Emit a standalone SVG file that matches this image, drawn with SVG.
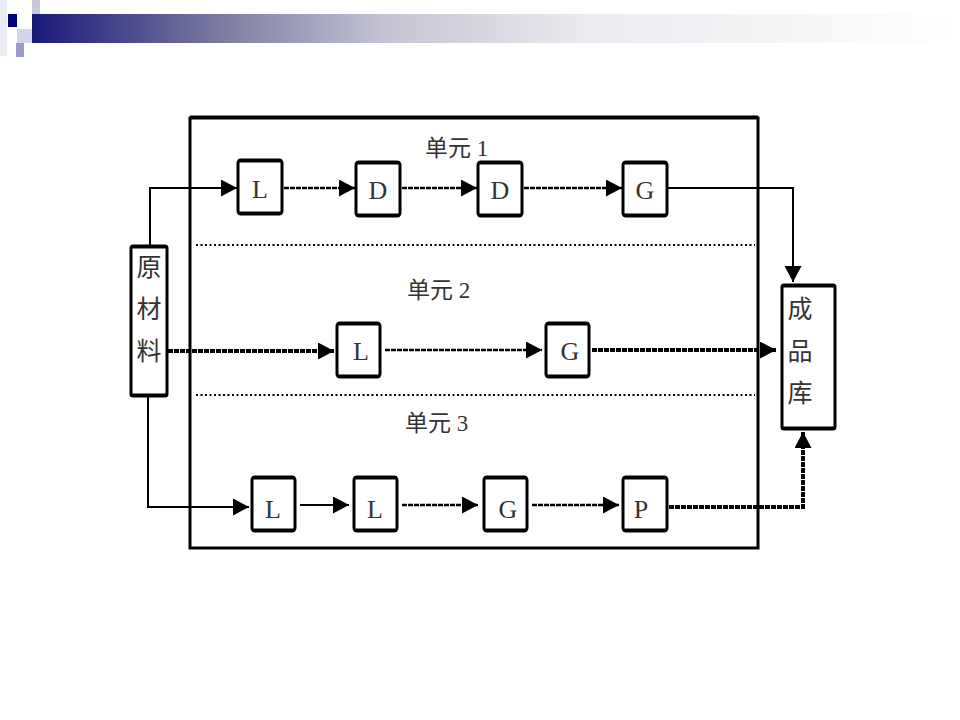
<svg xmlns="http://www.w3.org/2000/svg" width="960" height="720" viewBox="0 0 960 720">
<defs>
<linearGradient id="bar" x1="32" y1="0" x2="960" y2="0" gradientUnits="userSpaceOnUse">
<stop offset="0" stop-color="#18187a"/>
<stop offset="0.2" stop-color="#7a7aa0"/>
<stop offset="0.38" stop-color="#c4c4d4"/>
<stop offset="0.6" stop-color="#ebebf0"/>
<stop offset="1" stop-color="#ffffff"/>
</linearGradient>
<marker id="arr" markerUnits="userSpaceOnUse" markerWidth="17" markerHeight="17" refX="16" refY="8.5" orient="auto">
<path d="M0,0 L16,8.5 L0,17 z" fill="#000"/>
</marker>
</defs>
<style>
.box{fill:#fff;stroke:#000;stroke-width:3}
.edge{stroke:#000;stroke-width:3;fill:none}
.t{font-family:"Liberation Serif","Noto Sans CJK SC",serif;font-size:26px;fill:#333;text-anchor:middle;dominant-baseline:central}
.cjk{font-family:"Noto Sans CJK SC","Liberation Serif",serif;font-size:25px;fill:#333;text-anchor:middle;dominant-baseline:central}
.lab{font-family:"Liberation Serif","Noto Sans CJK SC",serif;font-size:23px;fill:#333}
.solid{stroke:#000;stroke-width:2;fill:none}
.dot{stroke:#000;stroke-width:2.5;fill:none;stroke-dasharray:5 1}
.thick{stroke:#000;stroke-width:4;fill:none;stroke-dasharray:5 1}
.sep{stroke:#000;stroke-width:2;stroke-dasharray:2 2.5;fill:none}
</style>
<rect width="960" height="720" fill="#fff"/>
<g id="header">
<rect x="0" y="0" width="7" height="56" fill="#ececf6"/>
<rect x="32" y="14" width="928" height="29" fill="url(#bar)"/>
<rect x="8" y="14" width="9" height="13" fill="#000080"/>
<rect x="32" y="0" width="8" height="14" fill="#c8c8e4"/>
<rect x="17" y="29" width="15" height="14" fill="#d4d4ea"/>
<rect x="16" y="43" width="8" height="14" fill="#9a9acc"/>
</g>
<g id="frame">
<rect x="190" y="118" width="568" height="430" fill="none" stroke="#000" stroke-width="3"/>
<line x1="190" y1="117" x2="758" y2="117" stroke="#000" stroke-width="3"/>
<line class="sep" x1="196" y1="245" x2="755" y2="245"/>
<line class="sep" x1="196" y1="395" x2="755" y2="395"/>
</g>
<g id="labels">
<text class="lab" x="425" y="156">单元 1</text>
<text class="lab" x="407" y="298">单元 2</text>
<text class="lab" x="405" y="431">单元 3</text>
</g>
<g id="connectors">
<path class="solid" d="M150,245 V188 H237" marker-end="url(#arr)"/>
<path class="dot" d="M284,188 H355" marker-end="url(#arr)"/>
<path class="dot" d="M402,188 H477" marker-end="url(#arr)"/>
<path class="dot" d="M524,188 H622" marker-end="url(#arr)"/>
<path class="solid" d="M668,188 H793 V282" marker-end="url(#arr)"/>
<path class="thick" d="M168,351 H334" marker-end="url(#arr)"/>
<path class="dot" d="M385,350 H542" marker-end="url(#arr)"/>
<path class="thick" d="M592,350 H776" marker-end="url(#arr)"/>
<path class="solid" d="M148,397 V507 H249" marker-end="url(#arr)"/>
<path class="solid" d="M300,505 H349" marker-end="url(#arr)"/>
<path class="dot" d="M402,505 H478" marker-end="url(#arr)"/>
<path class="dot" d="M532,505 H619" marker-end="url(#arr)"/>
<path class="thick" d="M669,507 H803 V432" marker-end="url(#arr)"/>
</g>
<g id="raw">
<rect class="box" x="131" y="246" width="36" height="150" rx="2"/>
<path class="edge" d="M131,247 H167 M131,395 H167"/>
<text class="cjk" x="149" y="265">原</text>
<text class="cjk" x="149" y="307">材</text>
<text class="cjk" x="149" y="349">料</text>
</g>
<g id="store">
<rect class="box" x="782" y="285" width="53" height="144" rx="2"/>
<path class="edge" d="M782,286 H835 M782,428 H835"/>
<text class="cjk" x="800" y="307">成</text>
<text class="cjk" x="800" y="349">品</text>
<text class="cjk" x="800" y="391">库</text>
</g>
<g id="u1-L"><rect class="box" x="238" y="160" width="44" height="54" rx="3"/><path class="edge" d="M238,161 H282 M238,213 H282"/><text class="t" x="260" y="189">L</text></g>
<g id="u1-D1"><rect class="box" x="356" y="162" width="44" height="54" rx="3"/><path class="edge" d="M356,163 H400 M356,215 H400"/><text class="t" x="378" y="190">D</text></g>
<g id="u1-D2"><rect class="box" x="478" y="162" width="44" height="54" rx="3"/><path class="edge" d="M478,163 H522 M478,215 H522"/><text class="t" x="500" y="190">D</text></g>
<g id="u1-G"><rect class="box" x="623" y="162" width="44" height="54" rx="3"/><path class="edge" d="M623,163 H667 M623,215 H667"/><text class="t" x="645" y="190">G</text></g>
<g id="u2-L"><rect class="box" x="337" y="323" width="43" height="54" rx="3"/><path class="edge" d="M337,324 H380 M337,376 H380"/><text class="t" x="361" y="351">L</text></g>
<g id="u2-G"><rect class="box" x="546" y="323" width="43" height="54" rx="3"/><path class="edge" d="M546,324 H589 M546,376 H589"/><text class="t" x="570" y="351">G</text></g>
<g id="u3-L1"><rect class="box" x="252" y="477" width="43" height="54" rx="3"/><path class="edge" d="M252,478 H295 M252,530 H295"/><text class="t" x="273" y="509">L</text></g>
<g id="u3-L2"><rect class="box" x="354" y="477" width="43" height="54" rx="3"/><path class="edge" d="M354,478 H397 M354,530 H397"/><text class="t" x="375" y="509">L</text></g>
<g id="u3-G"><rect class="box" x="484" y="477" width="43" height="54" rx="3"/><path class="edge" d="M484,478 H527 M484,530 H527"/><text class="t" x="508" y="509">G</text></g>
<g id="u3-P"><rect class="box" x="623" y="477" width="44" height="54" rx="3"/><path class="edge" d="M623,478 H667 M623,530 H667"/><text class="t" x="641" y="509">P</text></g>
</svg>
